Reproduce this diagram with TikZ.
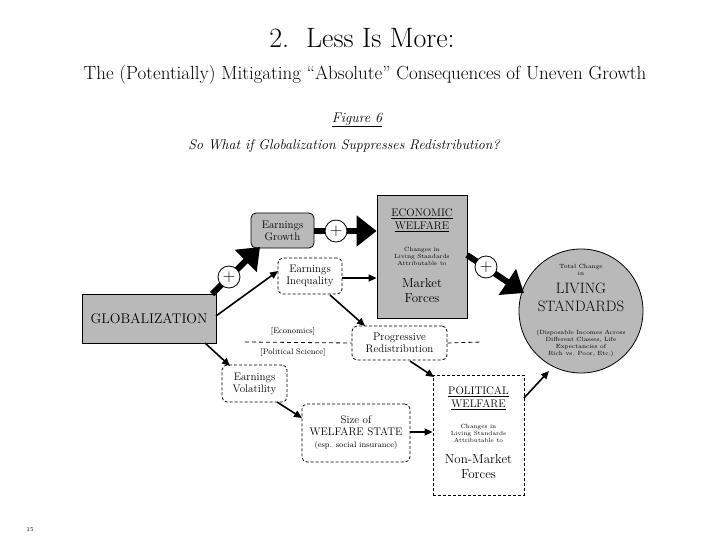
\documentclass[tikz,border=0pt]{standalone}
\usetikzlibrary{arrows.meta}
\begin{document}
\begin{tikzpicture}[x=1pt,y=-1pt,
 gbox/.style={draw,line width=0.8pt,fill=gray!55,inner sep=0pt},
 dbox/.style={draw,line width=0.8pt,dash pattern=on 3pt off 2pt,rounded corners=5pt,inner sep=0pt,align=center,font=\fontsize{11}{12}\selectfont},
 plus/.style={circle,draw,line width=0.8pt,fill=white,minimum size=22pt,inner sep=0pt,font=\LARGE},
 thick arr/.style={line width=6pt,-{Triangle[length=20pt,width=30pt]}},
 thin arr/.style={line width=1.6pt,-{Triangle[length=8pt,width=7pt]}},
 tiny/.style={align=center,font=\fontsize{6}{7}\selectfont}]
\useasboundingbox (0,0) rectangle (720,540);
\node at (362,38) {\fontsize{28}{32}\selectfont 2.\ \ Less Is More:};
\node at (365,75) {\fontsize{19}{22}\selectfont The (Potentially) Mitigating ``Absolute'' Consequences of Uneven Growth};
\node at (357,120) {\fontsize{14}{16}\selectfont\itshape\underline{Figure 6}};
\node at (344,146) {\fontsize{14}{16}\selectfont\itshape So What if Globalization Suppresses Redistribution?};
% boxes
\node[gbox,minimum width=134pt,minimum height=49pt] (glob) at (149,318.5) {\fontsize{14}{16}\selectfont GLOBALIZATION};
\node[gbox,rounded corners=5pt,minimum width=63pt,minimum height=35pt,align=center,font=\fontsize{11}{12}\selectfont] (grow) at (282.5,230.5) {Earnings\\Growth};
\node[dbox,minimum width=64pt,minimum height=36pt] (ineq) at (310,276) {Earnings\\Inequality};
\node[gbox,minimum width=90pt,minimum height=123pt] (econ) at (422,256.5) {};
\node[align=center,font=\fontsize{11}{13}\selectfont] at (422,220) {\underline{ECONOMIC}\\\underline{WELFARE}};
\node[tiny] at (422,256) {Changes in\\Living Standards\\Attributable to};
\node[align=center,font=\fontsize{13}{15}\selectfont] at (422,291) {Market\\Forces};
\node[dbox,minimum width=95pt,minimum height=34pt] (prog) at (399.5,343) {Progressive\\Redistribution};
\node[dbox,minimum width=65pt,minimum height=37pt] (vol) at (254.5,383.5) {Earnings\\Volatility};
\node[dbox,minimum width=108pt,minimum height=58pt] (size) at (356,433) {Size of\\WELFARE STATE\\{\fontsize{8}{10}\selectfont(esp. social insurance)}};
\node[draw,line width=0.8pt,dash pattern=on 3pt off 2pt,minimum width=91pt,minimum height=120pt,inner sep=0pt] (pol) at (478.5,435) {};
\node[align=center,font=\fontsize{11}{13}\selectfont] at (478.5,398) {\underline{POLITICAL}\\\underline{WELFARE}};
\node[tiny] at (478.5,433) {Changes in\\Living Standards\\Attributable to};
\node[align=center,font=\fontsize{13}{15}\selectfont] at (478.5,467) {Non-Market\\Forces};
\node[circle,draw,line width=0.8pt,fill=gray!55,minimum size=124pt,inner sep=0pt] (ls) at (581,311) {};
\node[tiny] at (581,270) {Total Change\\in};
\node[align=center,font=\fontsize{15}{18}\selectfont] at (581,297) {LIVING\\STANDARDS};
\node[tiny] at (581,343) {(Disposable Incomes Across\\Different Classes, Life\\Expectancies of\\Rich vs. Poor, Etc.)};
% dashed divider
\draw[line width=0.8pt,dash pattern=on 4pt off 3pt] (245,342) -- (prog.west);
\draw[line width=0.8pt,dash pattern=on 4pt off 3pt] (prog.east) -- (482,342);
\node[font=\fontsize{8}{10}\selectfont] at (293,331) {[Economics]};
\node[font=\fontsize{8}{10}\selectfont] at (293,352) {[Political Science]};
% thick arrows
\coordinate (g1) at (212,294);
\coordinate (g2) at (260,247);
\draw[thick arr] (g1) -- (g2);
\node[plus] (p1) at (229,277) {+};
\coordinate (e1) at (314,231);
\draw[thick arr] (e1) -- (econ.west |- e1);
\node[plus] (p2) at (336,231) {+};
\coordinate (e2) at (467,255);
\coordinate (e3) at (524,293);
\draw[thick arr] (e2) -- (e3);
\node[plus] (p3) at (486,267) {+};
% thin arrows
\coordinate (a1) at (216,316);
\coordinate (a2) at (278,271);
\draw[thin arr] (a1) -- (a2);
\draw[thin arr] (ineq.east |- 0,278) -- (econ.west |- 0,278);
\coordinate (b1) at (330,295);
\coordinate (b2) at (365,326);
\draw[thin arr] (b1) -- (b2);
\coordinate (c1) at (205,343);
\coordinate (c2) at (230,366);
\draw[thin arr] (c1) -- (c2);
\coordinate (d1) at (277,402);
\coordinate (d2) at (302,418);
\draw[thin arr] (d1) -- (d2);
\draw[thin arr] (size.east |- 0,432) -- (pol.west |- 0,432);
\coordinate (f1) at (410,361);
\coordinate (f2) at (434,377);
\draw[thin arr] (f1) -- (f2);
\coordinate (h1) at (524,398);
\coordinate (h2) at (549,371);
\draw[thin arr] (h1) -- (h2);
\node[font=\fontsize{6}{7}\selectfont] (pg) at (30,530) {15};
\end{tikzpicture}
\end{document}
